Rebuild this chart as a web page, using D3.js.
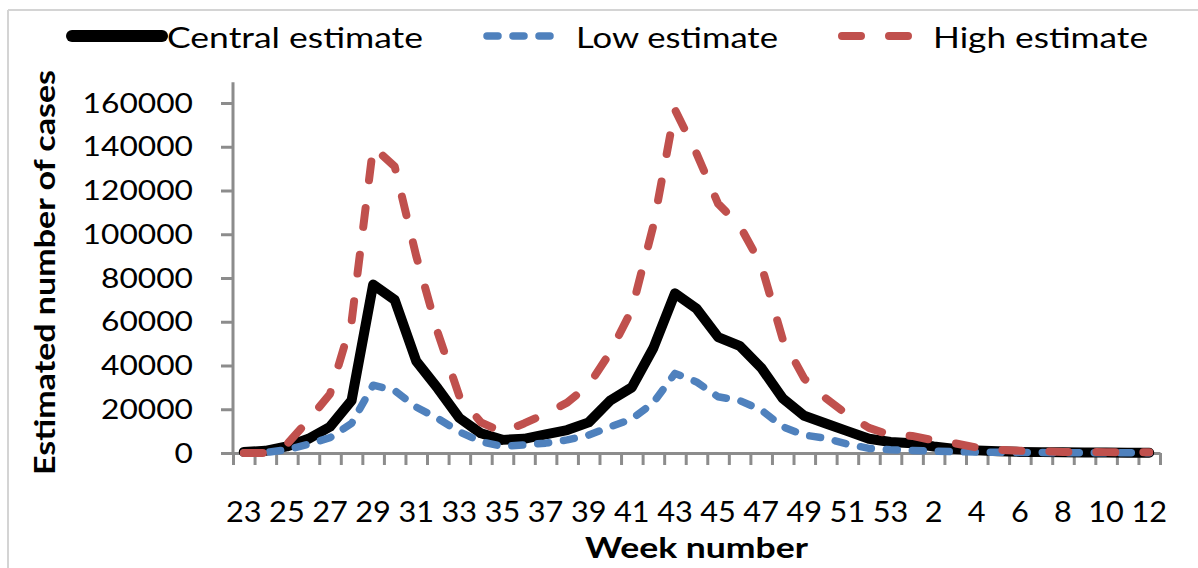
<!DOCTYPE html>
<html>
<head>
<meta charset="utf-8">
<script src="https://cdn.jsdelivr.net/npm/d3@7"></script>
<style>
  html, body { margin: 0; padding: 0; background: #fff; }
  svg { display: block; }
  text { font-family: Lato, "Liberation Sans", sans-serif; fill: #000; }
</style>
</head>
<body>
<svg id="chart" width="1198" height="568"></svg>
<script>
// ---- data ----
const weeks = [23,24,25,26,27,28,29,30,31,32,33,34,35,36,37,38,39,40,41,42,43,44,45,46,47,48,49,50,51,52,53,1,2,3,4,5,6,7,8,9,10,11,12];
const weekLabels = [23,25,27,29,31,33,35,37,39,41,43,45,47,49,51,53,2,4,6,8,10,12];
const yTicks = [0,20000,40000,60000,80000,100000,120000,140000,160000];
const central = [500,1000,3000,6500,12000,24000,77000,70000,42000,29500,16000,9000,6000,6500,8500,10500,14000,24000,30000,48000,73000,66000,53000,49000,39000,25000,17000,13500,10000,6500,5000,4500,3000,1800,1200,800,500,400,300,200,200,100,100];
const low = [0,200,1500,4000,7000,13500,31000,28500,21000,15800,9700,5200,3000,3700,4500,6000,8200,12000,15500,23000,36400,32500,25700,24000,19700,12000,8200,6700,4100,2100,1500,1200,800,600,400,300,200,200,100,100,100,100,100];
const high = [0,0,4000,15000,27000,60000,140000,131000,90000,55000,26000,14000,9500,13500,18000,23000,31000,46000,65500,104000,157000,137000,114000,104000,86000,52000,34000,25000,17500,11500,8200,7800,5800,4400,2500,1500,1000,800,500,500,400,300,300];
const seriesNames = ["Central estimate","Low estimate","High estimate"];

// ---- layout ----
const svg = d3.select("#chart");
const left = 233, right = 1160, base = 453, topVal = 103;
const axisGray = "#8c8c8c";
const colors = {central: "#000000", low: "#4F81BD", high: "#C0504D"};

// chart frame
svg.append("line").attr("x1", 8).attr("x2", 1198).attr("y1", 10).attr("y2", 10)
  .attr("stroke", "#d4d4d4").attr("stroke-width", 2);
svg.append("line").attr("x1", 8).attr("x2", 8).attr("y1", 10).attr("y2", 568)
  .attr("stroke", "#d4d4d4").attr("stroke-width", 2);

const x = d3.scaleBand().domain(weeks.map(String)).range([left, right]).padding(0);
const xi = d3.scaleLinear().domain([0, weeks.length]).range([left, right]);
const y = d3.scaleLinear().domain([0, 160000]).range([base, topVal]);
const yAxisTop = y(169500);

// y axis
const yAxis = svg.append("g").attr("transform", `translate(${left},0)`)
  .call(d3.axisLeft(y).tickValues(yTicks).tickSize(12).tickSizeOuter(0).tickFormat(""));
yAxis.select(".domain").remove();
yAxis.selectAll(".tick line").attr("stroke", axisGray).attr("stroke-width", 3);
svg.append("line").attr("x1", left).attr("x2", left).attr("y1", yAxisTop).attr("y2", base + 1)
  .attr("stroke", axisGray).attr("stroke-width", 3);

// y tick labels
yTicks.forEach(v => {
  const s = String(v);
  const len = s.length * 18.4;
  svg.append("text").attr("x", 193 - len).attr("y", y(v) + 9.5)
    .attr("font-size", 27).attr("textLength", len).attr("lengthAdjust", "spacingAndGlyphs")
    .text(s);
});

// x axis
const xAxis = svg.append("g").attr("transform", `translate(0,${base})`)
  .call(d3.axisBottom(xi).tickValues(d3.range(weeks.length + 1)).tickSize(12).tickSizeOuter(0).tickFormat(""));
xAxis.select(".domain").attr("stroke", axisGray).attr("stroke-width", 3);
xAxis.selectAll(".tick line").attr("stroke", axisGray).attr("stroke-width", 3);

weekLabels.forEach(w => {
  const s = String(w);
  const cx = x(s) + x.bandwidth() / 2;
  const len = s.length * 17.8;
  svg.append("text").attr("x", cx - len / 2).attr("y", 522)
    .attr("font-size", 28).attr("textLength", len).attr("lengthAdjust", "spacingAndGlyphs")
    .text(s);
});

// axis titles
svg.append("text").attr("x", 585).attr("y", 558)
  .attr("font-size", 28).attr("font-weight", "bold")
  .attr("textLength", 223).attr("lengthAdjust", "spacingAndGlyphs")
  .text("Week number");
svg.append("text")
  .attr("transform", "translate(55,475) rotate(-90)")
  .attr("x", 0).attr("y", 0)
  .attr("font-size", 28).attr("font-weight", "bold")
  .attr("textLength", 405).attr("lengthAdjust", "spacingAndGlyphs")
  .text("Estimated number of cases");

// lines
const line = d3.line()
  .x((d, i) => x(String(weeks[i])) + x.bandwidth() / 2)
  .y(d => y(d));

const styles = [
  {data: central, color: colors.central, width: 10, dash: null},
  {data: low, color: colors.low, width: 7.5, dash: "11,15"},
  {data: high, color: colors.high, width: 8, dash: "19,28"}
];
styles.forEach(s => {
  svg.append("path").datum(s.data)
    .attr("d", line)
    .attr("fill", "none")
    .attr("stroke", s.color)
    .attr("stroke-width", s.width)
    .attr("stroke-linejoin", "round")
    .attr("stroke-linecap", "round")
    .attr("stroke-dasharray", s.dash);
});

// legend
const legendItems = [
  {name: seriesNames[0], x1: 72, x2: 162, tx: 167, tl: 256, st: styles[0]},
  {name: seriesNames[1], x1: 487, x2: 562, tx: 576, tl: 202, st: styles[1]},
  {name: seriesNames[2], x1: 842, x2: 920, tx: 933, tl: 215, st: styles[2]}
];
legendItems.forEach(it => {
  svg.append("line").attr("x1", it.x1).attr("x2", it.x2).attr("y1", 36).attr("y2", 36)
    .attr("stroke", it.st.color).attr("stroke-width", it.st.width + (it.st.dash ? 0 : 2))
    .attr("stroke-linecap", "round")
    .attr("stroke-dasharray", it.st.dash);
  svg.append("text").attr("x", it.tx).attr("y", 48)
    .attr("font-size", 29).attr("textLength", it.tl).attr("lengthAdjust", "spacingAndGlyphs")
    .text(it.name);
});
</script>
</body>
</html>
